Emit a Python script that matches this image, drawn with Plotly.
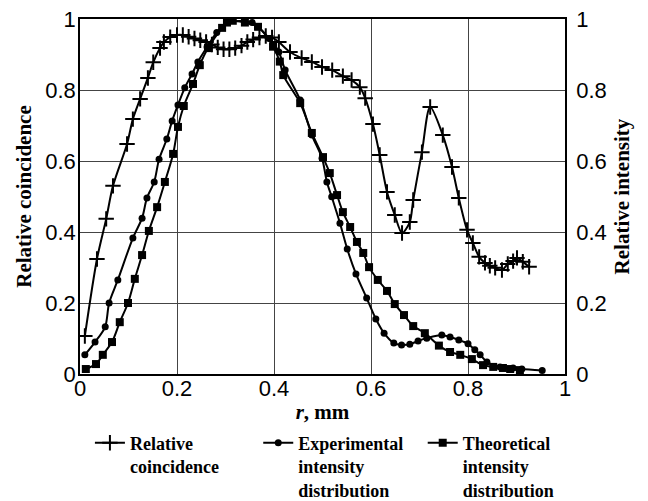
import plotly.graph_objects as go

# Relative coincidence (left axis)
coin_x = [0.01, 0.035, 0.054, 0.068, 0.097, 0.109, 0.124, 0.14, 0.151, 0.165, 0.173, 0.186,
          0.2, 0.212, 0.224, 0.236, 0.248, 0.26, 0.272, 0.284, 0.296, 0.308, 0.32, 0.333, 0.345,
          0.357, 0.37, 0.383, 0.396, 0.41, 0.433, 0.457, 0.478, 0.499, 0.52, 0.542, 0.56, 0.577,
          0.588, 0.604, 0.618, 0.633, 0.649, 0.664, 0.68, 0.687, 0.705, 0.722, 0.748, 0.767,
          0.781, 0.798, 0.81, 0.823, 0.835, 0.845, 0.856, 0.87, 0.882, 0.893, 0.901, 0.913, 0.926]
coin_y = [0.107, 0.324, 0.437, 0.53, 0.648, 0.718, 0.775, 0.834, 0.878, 0.918, 0.935, 0.949,
          0.955, 0.955, 0.95, 0.945, 0.94, 0.935, 0.928, 0.92, 0.915, 0.915, 0.918, 0.925, 0.935,
          0.942, 0.948, 0.952, 0.948, 0.935, 0.907, 0.89, 0.879, 0.865, 0.856, 0.839, 0.828, 0.808,
          0.777, 0.704, 0.617, 0.513, 0.448, 0.397, 0.428, 0.49, 0.625, 0.752, 0.673, 0.583,
          0.496, 0.406, 0.369, 0.33, 0.313, 0.305, 0.299, 0.293, 0.31, 0.318, 0.327, 0.316, 0.302]

# Experimental intensity distribution (right axis)
exp_x = [0.01, 0.031, 0.052, 0.06, 0.078, 0.109, 0.128, 0.138, 0.153, 0.163, 0.179, 0.19,
         0.202, 0.216, 0.231, 0.243, 0.262, 0.282, 0.303, 0.355, 0.39, 0.41, 0.423, 0.454,
         0.478, 0.499, 0.509, 0.519, 0.536, 0.551, 0.569, 0.591, 0.61, 0.627, 0.647, 0.663,
         0.68, 0.697, 0.715, 0.746, 0.763, 0.781, 0.8, 0.814, 0.825, 0.839, 0.866, 0.893,
         0.911, 0.953]
exp_y = [0.054, 0.09, 0.133, 0.2, 0.265, 0.383, 0.439, 0.496, 0.541, 0.605, 0.662, 0.713,
         0.758, 0.806, 0.845, 0.879, 0.921, 0.962, 0.99, 0.99, 0.945, 0.907, 0.856, 0.772,
         0.673, 0.608, 0.541, 0.499, 0.425, 0.352, 0.282, 0.214, 0.155, 0.115, 0.087, 0.082,
         0.084, 0.093, 0.101, 0.11, 0.104, 0.096, 0.085, 0.068, 0.054, 0.034, 0.02, 0.017,
         0.014, 0.01]

# Theoretical intensity distribution (right axis)
th_x = [0.012, 0.033, 0.047, 0.066, 0.082, 0.099, 0.113, 0.128, 0.142, 0.159, 0.175, 0.192,
        0.202, 0.214, 0.233, 0.247, 0.264, 0.293, 0.303, 0.315, 0.34, 0.367, 0.398, 0.412,
        0.419, 0.454, 0.478, 0.501, 0.515, 0.53, 0.542, 0.557, 0.571, 0.584, 0.596, 0.614,
        0.633, 0.649, 0.668, 0.687, 0.711, 0.74, 0.763, 0.784, 0.808, 0.831, 0.852, 0.872,
        0.887, 0.907]
th_y = [0.014, 0.028, 0.054, 0.09, 0.146, 0.2, 0.268, 0.335, 0.403, 0.47, 0.541, 0.62,
        0.696, 0.755, 0.817, 0.87, 0.918, 0.975, 0.99, 0.995, 0.99, 0.978, 0.922, 0.88,
        0.842, 0.763, 0.679, 0.611, 0.566, 0.504, 0.456, 0.414, 0.372, 0.341, 0.301, 0.265,
        0.234, 0.197, 0.166, 0.135, 0.115, 0.08, 0.062, 0.054, 0.042, 0.025, 0.02, 0.017,
        0.014, 0.011]

ticks = [0, 0.2, 0.4, 0.6, 0.8, 1]
tick_text = ["0", "0.2", "0.4", "0.6", "0.8", "1"]

serif_bold = dict(family="Liberation Serif", size=21, color="black")
line_style = dict(color="black", width=2, shape="spline", smoothing=0.8)

fig = go.Figure()
fig.add_trace(go.Scatter(
    x=coin_x, y=coin_y, mode="lines+markers", name="<b>Relative<br>coincidence</b>",
    line=line_style, legend="legend",
    marker=dict(symbol="cross-thin", size=11, color="black", line=dict(color="black", width=2)),
))
fig.add_trace(go.Scatter(
    x=exp_x, y=exp_y, mode="lines+markers", name="<b>Experimental<br>intensity<br>distribution</b>",
    yaxis="y2", line=line_style, legend="legend2",
    marker=dict(symbol="circle", size=7, color="black"),
))
fig.add_trace(go.Scatter(
    x=th_x, y=th_y, mode="lines+markers", name="<b>Theoretical<br>intensity<br>distribution</b>",
    yaxis="y2", line=line_style, legend="legend3",
    marker=dict(symbol="square", size=8, color="black"),
))

axis_common = dict(
    range=[0, 1], tickvals=ticks, ticktext=tick_text,
    showline=True, linecolor="black", linewidth=1.5,
    ticks="", zeroline=False, automargin=False, ticklabeloverflow="allow",
    tickfont=dict(family="Liberation Sans", size=22, color="black"),
)


def legend_at(x):
    return dict(
        orientation="h", xref="container", yref="container",
        x=x, y=0.155, xanchor="left", yanchor="top", valign="top",
        font=dict(family="Liberation Serif", size=18, color="black"),
        itemwidth=30, bgcolor="rgba(0,0,0,0)",
    )


fig.update_layout(
    width=640, height=493,
    margin=dict(l=72, r=83, t=11, b=127),
    paper_bgcolor="white", plot_bgcolor="white",
    showlegend=True,
    xaxis=dict(**axis_common, mirror=True, showgrid=True, gridcolor="#444444", gridwidth=1,
               ticklabelstandoff=-6,
               title=dict(text="<b><i>r</i>, mm</b>", font=serif_bold, standoff=4)),
    yaxis=dict(**axis_common, mirror=True, showgrid=True, gridcolor="#444444", gridwidth=1,
               ticklabelstandoff=-2,
               title=dict(text="<b>Relative coincidence</b>", font=serif_bold, standoff=8)),
    yaxis2=dict(**axis_common, showgrid=False, overlaying="y", side="right",
                ticklabelstandoff=5,
                title=dict(text="<b>Relative intensity</b>", font=serif_bold, standoff=9)),
    legend=legend_at(0.128),
    legend2=legend_at(0.391),
    legend3=legend_at(0.648),
)

fig.write_html("out.html")
